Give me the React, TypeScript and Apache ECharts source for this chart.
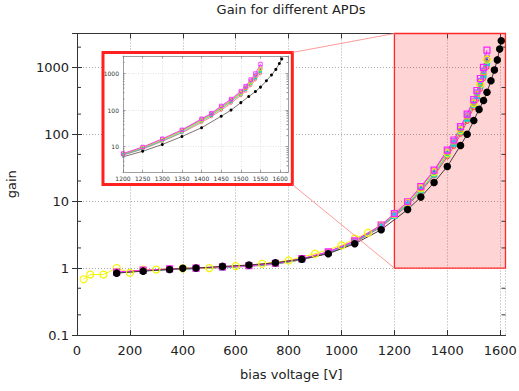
import React, { useEffect, useRef } from "react";
import * as echarts from "echarts";

// ---------- data ----------
const BLACK_V = [150, 250, 350, 400, 450, 550, 650, 750, 850, 950, 1050, 1150, 1250, 1300, 1350, 1400, 1450, 1475, 1500, 1520, 1537, 1550, 1565, 1578, 1589, 1598, 1604];
const BLACK_G = [0.84, 0.9, 0.955, 0.99, 1.0, 1.06, 1.11, 1.2, 1.36, 1.64, 2.31, 3.74, 7.5, 11.5, 19, 33, 68, 100, 160, 235, 320, 424, 630, 910, 1290, 1870, 2500];

const YELLOW_V = [25, 50, 100, 150, 200, 250, 300, 400, 500, 600, 700, 800, 900, 1000, 1050, 1100, 1150, 1200, 1250, 1300, 1350, 1400, 1450, 1500, 1525, 1550];
const YELLOW_G = [0.68, 0.8, 0.8, 1.0, 0.85, 0.95, 0.95, 0.99, 1.0, 1.07, 1.16, 1.3, 1.64, 2.18, 2.75, 3.37, 4.34, 6.4, 9.5, 15.5, 27, 52, 115, 290, 560, 1300];

const APD_V = [150, 250, 350, 450, 550, 650, 750, 850, 950, 1050, 1150, 1200, 1250, 1300, 1350, 1400, 1425, 1450, 1475, 1500, 1512, 1525, 1537, 1550];
const MAGENTA_G = [0.87, 0.93, 0.97, 1.0, 1.04, 1.09, 1.18, 1.38, 1.75, 2.55, 4.4, 6.5, 9.8, 16.5, 29, 58, 82, 130, 200, 330, 450, 680, 1000, 1800];
const VIOLET_G = [0.86, 0.92, 0.96, 0.99, 1.03, 1.08, 1.17, 1.37, 1.73, 2.52, 4.35, 6.4, 9.6, 16, 28, 56, 80, 125, 195, 315, 430, 640, 900, 1500];
const CYAN_G = [0.85, 0.91, 0.95, 0.98, 1.02, 1.07, 1.15, 1.34, 1.68, 2.45, 4.2, 6.0, 8.8, 14.5, 25, 50, 72, 110, 170, 275, 370, 530, 760, 1150];
const GREEN_G = [0.86, 0.92, 0.96, 0.99, 1.03, 1.08, 1.16, 1.35, 1.7, 2.5, 4.3, 6.2, 9.2, 15.3, 27, 52, 74, 112, 175, 285, 385, 550, 790, 1250];
const ORANGE_G = [0.87, 0.93, 0.97, 1.0, 1.04, 1.09, 1.17, 1.37, 1.74, 2.53, 4.4, 6.4, 9.5, 15.8, 28, 55, 78, 120, 185, 300, 400, 590, 850, 1350];
const RED_G = [0.85, 0.91, 0.95, 0.98, 1.02, 1.06, 1.14, 1.33, 1.66, 2.4, 4.1, 5.9, 8.6, 14, 24, 46, 66, 100, 155, 250, 330, 470, 680, 1000];
const BLUE_G = [0.86, 0.92, 0.96, 0.99, 1.03, 1.08, 1.16, 1.36, 1.71, 2.5, 4.3, 6.3, 9.4, 15.6, 27.5, 54, 77, 118, 182, 295, 395, 575, 820, 1300];

const MINOR_MAIN = [0.2, 0.5, 2, 5, 20, 50, 200, 500, 2000];
const MINOR_INSET = [3, 4, 5, 6, 7, 8, 9, 20, 30, 40, 50, 60, 70, 80, 90, 200, 300, 400, 500, 600, 700, 800, 900, 2000];

const TITLE = "Gain for different APDs";
const X_NAME = "bias voltage [V]";
const Y_NAME = "gain";

const FONT = "DejaVu Sans";

interface SeriesDef {
  name: string;
  xs: number[];
  ys: number[];
  color: string;
  symbol: string;
  size: number;
  hollow: boolean;
  lineColor?: string;
  insetSize: number;
}

const SERIES: SeriesDef[] = [
  { name: "APD red", xs: APD_V, ys: RED_G, color: "#ff4a4a", symbol: "circle", size: 4, hollow: true, insetSize: 2.5 },
  { name: "APD green", xs: APD_V, ys: GREEN_G, color: "#60e060", symbol: "triangle", size: 5, hollow: true, insetSize: 2.5 },
  { name: "APD blue", xs: APD_V, ys: BLUE_G, color: "#3030ff", symbol: "triangle", size: 4, hollow: false, insetSize: 2.5 },
  { name: "APD cyan", xs: APD_V, ys: CYAN_G, color: "#10d0d0", symbol: "rect", size: 6, hollow: false, insetSize: 3 },
  { name: "APD orange", xs: APD_V, ys: ORANGE_G, color: "#ffa020", symbol: "rect", size: 5, hollow: true, insetSize: 3 },
  { name: "APD violet", xs: APD_V, ys: VIOLET_G, color: "#b070ff", symbol: "rect", size: 4, hollow: true, insetSize: 3 },
  { name: "APD yellow", xs: YELLOW_V, ys: YELLOW_G, color: "#f4f400", symbol: "circle", size: 7, hollow: true, insetSize: 3 },
  { name: "APD magenta", xs: APD_V, ys: MAGENTA_G, color: "#ff20ff", symbol: "rect", size: 6, hollow: true, insetSize: 3.5 },
  { name: "APD reference", xs: BLACK_V, ys: BLACK_G, color: "#000000", lineColor: "#4a3434", symbol: "circle", size: 7.5, hollow: false, insetSize: 3 },
];

const fmt = (v: number) => String(Number(v.toPrecision(6)));

export default function App() {
  const ref = useRef<HTMLDivElement>(null);

  useEffect(() => {
    if (!ref.current) return;
    const chart = echarts.init(ref.current, undefined, { renderer: "svg" });

    const gridLine = { show: true, lineStyle: { color: "#a8a8a8", type: [1, 2] as any, width: 1 } };
    const insetGridLine = { show: true, lineStyle: { color: "#d0d0d0", type: [1, 1.5] as any, width: 0.6 } };
    const frameLine = { show: true, lineStyle: { color: "#333", width: 1 } };
    const insetFrame = { show: true, lineStyle: { color: "#8a8a8a", width: 0.8 } };

    const mainSeries: any[] = SERIES.map((s) => ({
      name: s.name,
      type: "line",
      xAxisIndex: 0,
      yAxisIndex: 0,
      data: s.xs.map((x, i) => [x, s.ys[i]]),
      symbol: s.symbol,
      symbolSize: s.size,
      lineStyle: { color: s.lineColor || s.color, width: 1 },
      itemStyle: s.hollow
        ? { color: "rgba(0,0,0,0)", borderColor: s.color, borderWidth: 1.2 }
        : { color: s.color, borderColor: s.color, borderWidth: 0 },
      z: 3,
    }));

    const insetSeries: any[] = SERIES.map((s) => ({
      name: s.name + " (zoom)",
      type: "line",
      xAxisIndex: 2,
      yAxisIndex: 2,
      data: s.xs.map((x, i) => [x, s.ys[i]]),
      symbol: s.symbol,
      symbolSize: s.insetSize,
      lineStyle: { color: s.lineColor || s.color, width: 0.7 },
      itemStyle: s.hollow
        ? { color: "rgba(0,0,0,0)", borderColor: s.color, borderWidth: 0.8 }
        : { color: s.color, borderWidth: 0 },
      z: 25,
    }));

    const minorTicks = (xIdx: number, yIdx: number, vals: number[], xl: number, xr: number, len: number, color: string, z: number) => ({
      type: "custom",
      xAxisIndex: xIdx,
      yAxisIndex: yIdx,
      silent: true,
      z,
      data: vals.map((v) => [xl, v]),
      renderItem: (params: any, api: any) => {
        const v = api.value(1);
        const pl = api.coord([xl, v]);
        const pr = api.coord([xr, v]);
        return {
          type: "group",
          children: [
            { type: "line", shape: { x1: pl[0], y1: pl[1], x2: pl[0] + len, y2: pl[1] }, style: { stroke: color, lineWidth: 1 } },
            { type: "line", shape: { x1: pr[0] - len, y1: pr[1], x2: pr[0], y2: pr[1] }, style: { stroke: color, lineWidth: 1 } },
          ],
        };
      },
    });

    const option: any = {
      animation: false,
      backgroundColor: "#fff",
      textStyle: { fontFamily: FONT },
      title: {
        text: TITLE,
        left: 291,
        top: 3,
        padding: 0,
        textAlign: "center",
        textStyle: { fontFamily: FONT, fontSize: 13, fontWeight: "normal", color: "#222" },
      },
      grid: [
        { left: 77, top: 33.5, right: 13.5, bottom: 56, containLabel: false, outerBoundsMode: "none" },
        { left: 123, top: 56, width: 165, height: 116.3, containLabel: false, outerBoundsMode: "none" },
      ],
      xAxis: [
        {
          type: "value", gridIndex: 0, min: 0, max: 1620, interval: 200, position: "bottom",
          name: X_NAME, nameLocation: "middle", nameGap: 33,
          nameTextStyle: { fontFamily: FONT, fontSize: 13, color: "#222" },
          axisLine: frameLine,
          axisTick: { show: true, inside: true, length: 5, lineStyle: { color: "#333" } },
          axisLabel: { fontFamily: FONT, fontSize: 13, color: "#222", margin: 9, showMaxLabel: false, formatter: fmt },
          splitLine: gridLine,
        },
        {
          type: "value", gridIndex: 0, min: 0, max: 1620, interval: 200, position: "top",
          axisLine: frameLine,
          axisTick: { show: true, inside: true, length: 5, lineStyle: { color: "#333" } },
          axisLabel: { show: false },
          splitLine: { show: false },
        },
        {
          type: "value", gridIndex: 1, min: 1200, max: 1620, interval: 50, position: "bottom", z: 20,
          axisLine: insetFrame,
          axisTick: { show: true, inside: true, length: 2.5, lineStyle: { color: "#777", width: 0.7 } },
          axisLabel: { fontFamily: FONT, fontSize: 6, color: "#333", margin: 3, showMaxLabel: false, formatter: fmt },
          splitLine: insetGridLine,
        },
        {
          type: "value", gridIndex: 1, min: 1200, max: 1620, interval: 50, position: "top", z: 20,
          axisLine: insetFrame,
          axisTick: { show: true, inside: true, length: 2.5, lineStyle: { color: "#777", width: 0.7 } },
          axisLabel: { show: false },
          splitLine: { show: false },
        },
      ],
      yAxis: [
        {
          type: "log", logBase: 10, gridIndex: 0, min: 0.1, max: 3200, position: "left",
          name: Y_NAME, nameLocation: "middle", nameGap: 59, nameRotate: 90,
          nameTextStyle: { fontFamily: FONT, fontSize: 13, color: "#222" },
          axisLine: frameLine,
          axisTick: { show: true, inside: true, length: 5, lineStyle: { color: "#333" } },
          axisLabel: { fontFamily: FONT, fontSize: 13, color: "#222", margin: 8, showMaxLabel: false, formatter: fmt },
          splitLine: gridLine,
        },
        {
          type: "log", logBase: 10, gridIndex: 0, min: 0.1, max: 3200, position: "right",
          axisLine: frameLine,
          axisTick: { show: true, inside: true, length: 5, lineStyle: { color: "#333" } },
          axisLabel: { show: false },
          splitLine: { show: false },
        },
        {
          type: "log", logBase: 10, gridIndex: 1, min: 2, max: 3000, position: "left", z: 20,
          axisLine: insetFrame,
          axisTick: { show: true, inside: true, length: 2.5, lineStyle: { color: "#777", width: 0.7 } },
          axisLabel: { fontFamily: FONT, fontSize: 6, color: "#333", margin: 4, showMaxLabel: false, showMinLabel: false, formatter: fmt },
          splitLine: insetGridLine,
        },
        {
          type: "log", logBase: 10, gridIndex: 1, min: 2, max: 3000, position: "right", z: 20,
          axisLine: insetFrame,
          axisTick: { show: true, inside: true, length: 2.5, lineStyle: { color: "#777", width: 0.7 } },
          axisLabel: { show: false },
          splitLine: { show: false },
        },
      ],
      series: [
        {
          name: "zoom region",
          type: "line",
          xAxisIndex: 0,
          yAxisIndex: 0,
          data: [],
          z: 1,
          silent: true,
          markArea: {
            silent: true,
            itemStyle: { color: "rgba(255,40,40,0.2)", borderColor: "#ff2a2a", borderWidth: 1.3 },
            data: [[{ coord: [1200, 1] }, { coord: [1620, 3200] }]],
          },
        },
        ...mainSeries,
        minorTicks(0, 0, MINOR_MAIN, 0, 1620, 4, "#333", 4),
        ...insetSeries,
        minorTicks(2, 2, MINOR_INSET, 1200, 1620, 1.5, "#888", 26),
      ],
    };

    chart.setOption(option);

    const pTop = chart.convertToPixel({ xAxisIndex: 0, yAxisIndex: 0 }, [1200, 3200]) as number[];
    const pBot = chart.convertToPixel({ xAxisIndex: 0, yAxisIndex: 0 }, [1200, 1]) as number[];
    const box = { x: 103, y: 52.5, w: 189.3, h: 132 };

    chart.setOption({
      graphic: [
        {
          type: "line", z: 11, silent: true,
          shape: { x1: box.x + box.w, y1: box.y, x2: pTop[0], y2: pTop[1] },
          style: { stroke: "#ff8080", lineWidth: 0.8 },
        },
        {
          type: "line", z: 11, silent: true,
          shape: { x1: box.x + box.w, y1: box.y + box.h, x2: pBot[0], y2: pBot[1] },
          style: { stroke: "#ff8080", lineWidth: 0.8 },
        },
        {
          type: "rect", z: 10, silent: true,
          shape: { x: box.x, y: box.y, width: box.w, height: box.h },
          style: { fill: "#ffffff", stroke: "#ff2020", lineWidth: 3 },
        },
      ],
    });

    return () => chart.dispose();
  }, []);

  return <div ref={ref} style={{ position: "fixed", left: 0, top: 0, width: 519, height: 391 }} />;
}
